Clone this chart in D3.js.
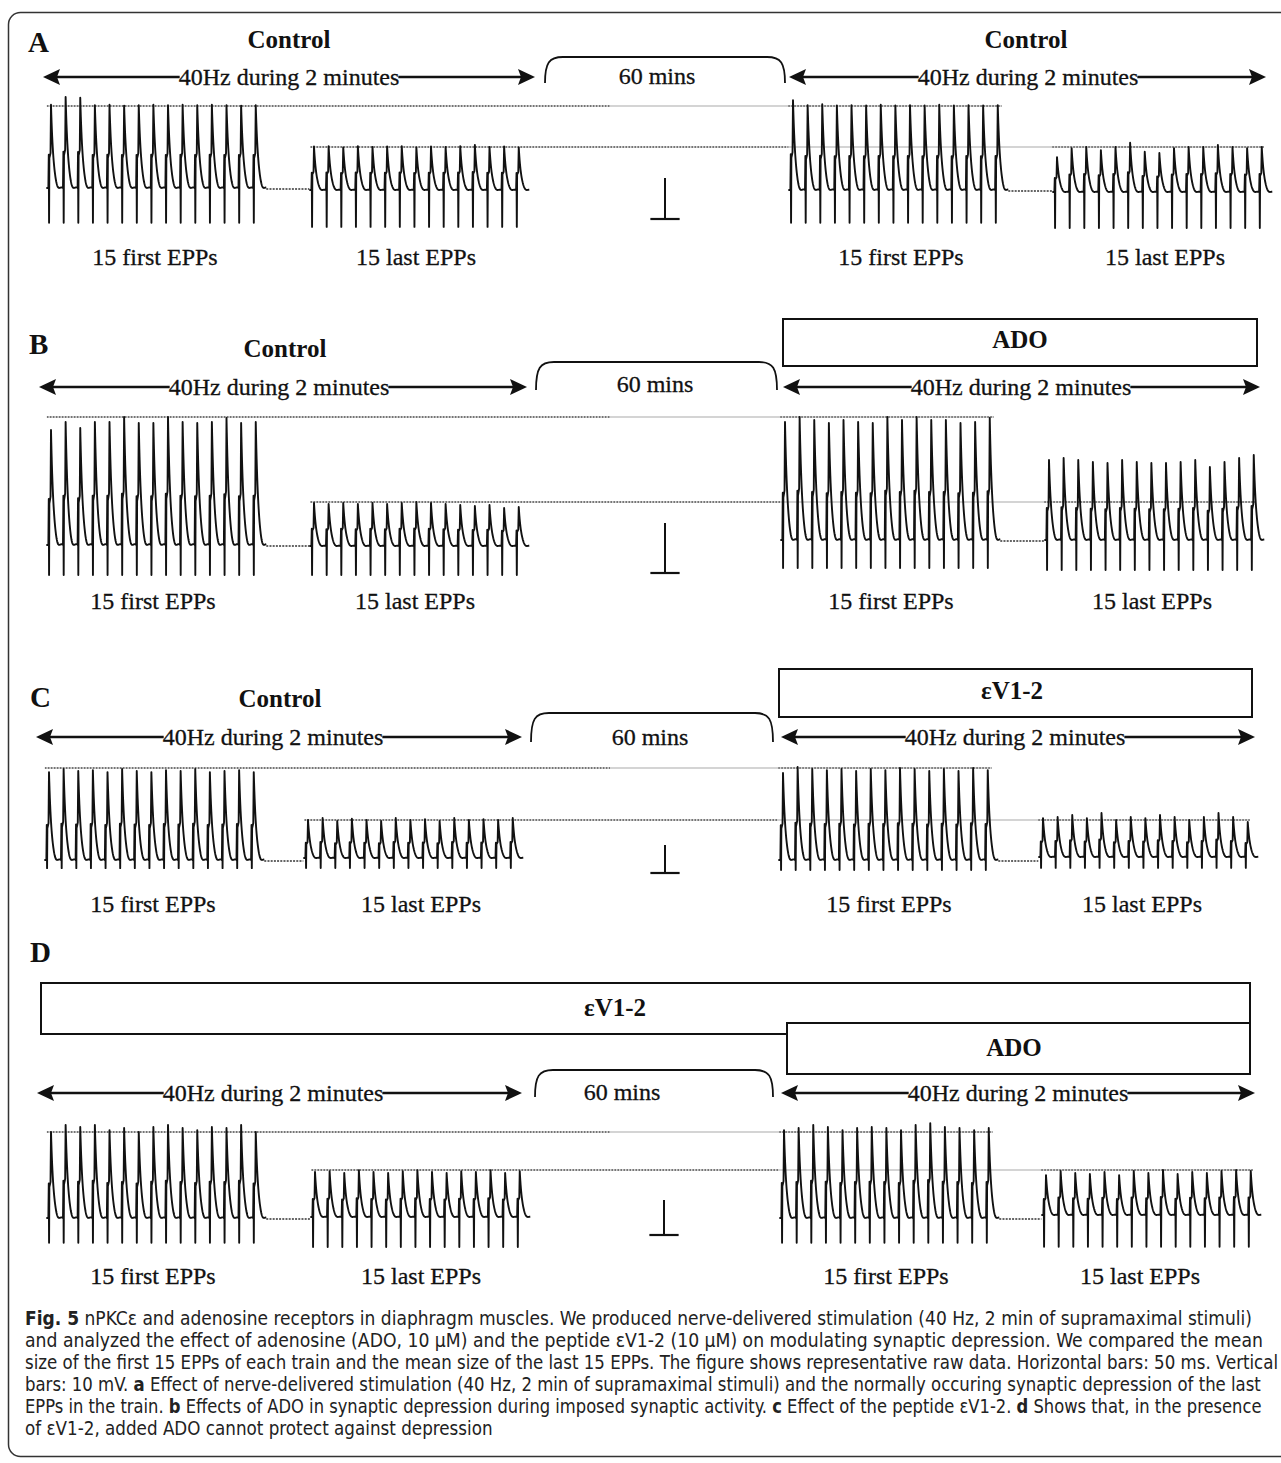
<!DOCTYPE html>
<html>
<head>
<meta charset="utf-8">
<script src="https://cdn.jsdelivr.net/npm/d3@7/dist/d3.min.js"></script>
<style>
  body { margin: 0; background: #fff; }
  svg { display: block; }
  .serif { font-family: "Liberation Serif", "Times New Roman", serif; fill: #111; }
  .letter { font-size: 29px; font-weight: bold; }
  .head { font-size: 25px; font-weight: bold; }
  .reg { font-size: 24px; stroke: #111; stroke-width: 0.3px; }
  .caption text { font-family: "Liberation Sans Narrow", "DejaVu Sans Condensed", "Arial Narrow", sans-serif; font-size: 20px; fill: #222; }
</style>
</head>
<body>
<script>
// Testi
var panelLetters = ["A", "B", "C", "D"];
var trainLabels = ["15 first EPPs", "15 last EPPs", "15 first EPPs", "15 last EPPs"];
var stimText = "40Hz during 2 minutes";
var waitText = "60 mins";
var controlText = "Control";
var adoText = "ADO";
var peptideText = "εV1-2";

// Ampiezze dei 15 EPP (mV)
var aFirst1 = [20.3, 22.2, 22.0, 20.2, 20.3, 20.1, 20.2, 20.3, 20.2, 20.3, 20.2, 20.3, 20.2, 20.1, 20.2];
var aLast1  = [10.6, 10.7, 10.4, 10.7, 10.5, 10.6, 10.7, 10.4, 10.6, 10.5, 10.7, 11.0, 10.5, 10.6, 10.4];
var aFirst2 = [21.9, 20.7, 20.9, 20.6, 20.7, 20.6, 20.8, 20.6, 20.7, 20.6, 20.8, 20.6, 20.7, 20.6, 20.7];
var aLast2  = [8.5, 10.7, 11.0, 10.2, 11.0, 12.0, 9.8, 9.5, 10.7, 11.0, 11.0, 11.5, 11.0, 10.7, 11.0];

var bFirst1 = [23.0, 24.6, 23.4, 24.6, 24.6, 25.6, 24.4, 24.4, 25.6, 24.6, 24.4, 24.6, 25.4, 24.4, 24.6];
var bLast1  = [8.6, 8.4, 8.6, 8.4, 8.6, 8.4, 8.6, 8.8, 8.6, 8.4, 8.2, 8.0, 8.2, 7.6, 7.8];
var bFirst2 = [23.6, 24.6, 24.0, 23.4, 24.0, 23.6, 23.4, 24.6, 24.0, 24.6, 24.0, 24.0, 23.4, 23.6, 24.4];
var bLast2  = [16.0, 16.4, 16.0, 15.6, 15.4, 16.0, 15.6, 15.4, 15.4, 15.6, 16.0, 14.6, 15.6, 16.4, 17.0];

var cFirst1 = [31.4, 32.5, 31.8, 32.1, 31.4, 32.5, 31.8, 31.4, 32.1, 31.8, 32.5, 31.4, 31.8, 32.1, 31.4];
var cLast1  = [13.6, 14.3, 13.2, 14.0, 13.6, 13.2, 14.3, 13.6, 13.9, 13.2, 14.3, 13.6, 13.9, 13.6, 14.3];
var cFirst2 = [31.1, 33.2, 32.5, 32.1, 32.5, 31.8, 32.5, 32.1, 32.9, 32.5, 31.8, 32.5, 31.8, 32.9, 32.1];
var cLast2  = [13.9, 14.3, 15.0, 13.9, 15.7, 13.2, 14.3, 13.9, 15.0, 14.3, 13.2, 14.3, 15.7, 14.3, 12.5];

var dFirst1 = [24.6, 26.6, 26.0, 26.6, 25.1, 25.7, 24.6, 26.0, 26.6, 25.7, 25.1, 26.0, 25.7, 26.6, 24.6];
var dLast1  = [12.9, 13.1, 12.6, 13.4, 12.9, 12.6, 13.1, 13.4, 12.9, 12.6, 13.1, 12.9, 13.4, 12.6, 13.1];
var dFirst2 = [25.1, 25.7, 26.6, 26.0, 25.1, 25.7, 26.0, 25.7, 25.1, 26.6, 27.1, 26.0, 25.7, 25.1, 25.7];
var dLast2  = [11.4, 12.6, 12.0, 11.7, 12.3, 11.4, 12.6, 12.0, 12.9, 11.7, 12.3, 12.0, 12.6, 12.9, 12.6];

// Profondita' dell'artefatto di stimolo (mV sotto la linea di base), per treno
var artA = [8.5, 9.0, 8.0, 8.8];
var artB = [6.0, 5.8, 5.6, 6.0];
var artC = [2.9, 3.6, 3.6, 3.9];
var artD = [7.1, 8.6, 7.1, 9.1];

// Barre di scala: 50 ms, 10 mV
var scaleMs = 50;
var scaleMv = 10;
var isiMs = 25; // 40 Hz

// Didascalia
var captionLines = [
  [["Fig. 5", true], [" nPKCε and adenosine receptors in diaphragm muscles. We produced nerve-delivered stimulation (40 Hz, 2 min of supramaximal stimuli)", false]],
  [["and analyzed the effect of adenosine (ADO, 10 μM) and the peptide εV1-2 (10 μM) on modulating synaptic depression. We compared the mean", false]],
  [["size of the first 15 EPPs of each train and the mean size of the last 15 EPPs. The figure shows representative raw data. Horizontal bars: 50 ms. Vertical", false]],
  [["bars: 10 mV. ", false], ["a", true], [" Effect of nerve-delivered stimulation (40 Hz, 2 min of supramaximal stimuli) and the normally occuring synaptic depression of the last", false]],
  [["EPPs in the train. ", false], ["b", true], [" Effects of ADO in synaptic depression during imposed synaptic activity. ", false], ["c", true], [" Effect of the peptide εV1-2. ", false], ["d", true], [" Shows that, in the presence", false]],
  [["of εV1-2, added ADO cannot protect against depression", false]]
];
var captionWidths = [1227, 1239, 1254, 1237, 1237, null];

// Layout dei pannelli
var PX_PER_MS = 0.585;
var panels = [
  { letter: panelLetters[0], letterX: 28, letterY: 52, barPx: 41,
    headers: [{ x: 289, y: 48, text: controlText }, { x: 1026, y: 48, text: controlText }],
    boxes: [],
    arrowY: 77, arrowTextY: 85, arrows: [{ x1: 43, x2: 535, tx: 289 }, { x1: 789, x2: 1266, tx: 1028 }],
    bracket: { x1: 545, x2: 785, top: 57, bot: 83, tx: 657, ty: 84 },
    bar: { x: 665, y: 219 }, refY: [106, 147],
    trains: [{ amps: aFirst1, art: artA[0], x0: 51, base: 188 }, { amps: aLast1, art: artA[1], x0: 314, base: 190 },
             { amps: aFirst2, art: artA[2], x0: 793, base: 190 }, { amps: aLast2, art: artA[3], x0: 1057, base: 192 }],
    labelY: 265, labelX: [155, 416, 901, 1165] },
  { letter: panelLetters[1], letterX: 29, letterY: 354, barPx: 50,
    headers: [{ x: 285, y: 357, text: controlText }],
    boxes: [{ x1: 783, x2: 1257, y1: 319, y2: 366, text: adoText, tx: 1020, ty: 348 }],
    arrowY: 387, arrowTextY: 395, arrows: [{ x1: 39, x2: 527, tx: 279 }, { x1: 783, x2: 1260, tx: 1021 }],
    bracket: { x1: 536, x2: 777, top: 362, bot: 390, tx: 655, ty: 392 },
    bar: { x: 665, y: 573 }, refY: [417, 502],
    trains: [{ amps: bFirst1, art: artB[0], x0: 51, base: 545 }, { amps: bLast1, art: artB[1], x0: 314, base: 546 },
             { amps: bFirst2, art: artB[2], x0: 785, base: 540 }, { amps: bLast2, art: artB[3], x0: 1049, base: 540 }],
    labelY: 609, labelX: [153, 415, 891, 1152] },
  { letter: panelLetters[2], letterX: 30, letterY: 707, barPx: 28,
    headers: [{ x: 280, y: 707, text: controlText }],
    boxes: [{ x1: 779, x2: 1252, y1: 669, y2: 717, text: peptideText, tx: 1012, ty: 699 }],
    arrowY: 737, arrowTextY: 745, arrows: [{ x1: 36, x2: 522, tx: 273 }, { x1: 781, x2: 1255, tx: 1015 }],
    bracket: { x1: 531, x2: 773, top: 713, bot: 742, tx: 650, ty: 745 },
    bar: { x: 665, y: 873 }, refY: [768, 820],
    trains: [{ amps: cFirst1, art: artC[0], x0: 49, base: 860 }, { amps: cLast1, art: artC[1], x0: 308, base: 858 },
             { amps: cFirst2, art: artC[2], x0: 783, base: 860 }, { amps: cLast2, art: artC[3], x0: 1043, base: 857 }],
    labelY: 912, labelX: [153, 421, 889, 1142] },
  { letter: panelLetters[3], letterX: 30, letterY: 962, barPx: 35,
    headers: [],
    boxes: [{ x1: 41, x2: 1250, y1: 983, y2: 1034, text: peptideText, tx: 615, ty: 1016 },
            { x1: 787, x2: 1250, y1: 1023, y2: 1074, text: adoText, tx: 1014, ty: 1056 }],
    arrowY: 1093, arrowTextY: 1101, arrows: [{ x1: 37, x2: 522, tx: 273 }, { x1: 781, x2: 1255, tx: 1018 }],
    bracket: { x1: 535, x2: 773, top: 1070, bot: 1097, tx: 622, ty: 1100 },
    bar: { x: 664, y: 1235 }, refY: [1132, 1170],
    trains: [{ amps: dFirst1, art: artD[0], x0: 51, base: 1218 }, { amps: dLast1, art: artD[1], x0: 315, base: 1217 },
             { amps: dFirst2, art: artD[2], x0: 784, base: 1218 }, { amps: dLast2, art: artD[3], x0: 1046, base: 1215 }],
    labelY: 1284, labelX: [153, 421, 886, 1140] }
];

var svg = d3.select("body").append("svg")
  .attr("width", 1281)
  .attr("height", 1463);

// Cornice arrotondata
svg.append("rect")
  .attr("x", 8.5).attr("y", 12.5)
  .attr("width", 1310).attr("height", 1444)
  .attr("rx", 12)
  .attr("fill", "none").attr("stroke", "#333").attr("stroke-width", 1.5);

// Forma di un EPP: artefatto, salita rapida, decadimento esponenziale
function trainPoints(amps, art) {
  var pts = [[-8, 0]];
  amps.forEach(function(a, i) {
    var t0 = i * isiMs;
    pts.push([t0 - 4.5, 0], [t0 - 3.8, 0.4 * a], [t0 - 3.3, -art], [t0 - 2.8, 0.36 * a], [t0 - 0.8, 0.42 * a], [t0, a]);
    var end = i < amps.length - 1 ? 20 : 18;
    for (var dt = 0.5; dt <= end; dt += 0.5) {
      pts.push([t0 + dt, a * Math.exp(-dt / 4.2) - 0.05 * a * Math.exp(-Math.pow((dt - 11) / 5, 2))]);
    }
  });
  return pts;
}

function timeScale(x0) {
  return d3.scaleLinear().domain([0, 350]).range([x0, x0 + 350 * PX_PER_MS]);
}

function drawArrow(g, a, y, ty) {
  g.append("line")
    .attr("x1", a.x1 + 10).attr("x2", a.x2 - 10)
    .attr("y1", y).attr("y2", y)
    .attr("stroke", "#111").attr("stroke-width", 2.4);
  g.append("path")
    .attr("d", "M" + a.x1 + "," + y + "L" + (a.x1 + 17) + "," + (y - 8) + "L" + (a.x1 + 14) + "," + y + "L" + (a.x1 + 17) + "," + (y + 8) + "Z")
    .attr("fill", "#111");
  g.append("path")
    .attr("d", "M" + a.x2 + "," + y + "L" + (a.x2 - 17) + "," + (y - 8) + "L" + (a.x2 - 14) + "," + y + "L" + (a.x2 - 17) + "," + (y + 8) + "Z")
    .attr("fill", "#111");
  var t = g.append("text")
    .attr("class", "serif reg")
    .attr("x", a.tx).attr("y", ty)
    .attr("text-anchor", "middle")
    .text(stimText);
  var bb = t.node().getBBox();
  g.insert("rect", function() { return t.node(); })
    .attr("x", bb.x + 1).attr("y", y - 3)
    .attr("width", bb.width - 2).attr("height", 6)
    .attr("fill", "#fff");
}

function refLine(g, y, x1, x2, dotted) {
  g.append("line")
    .attr("x1", x1).attr("x2", x2).attr("y1", y).attr("y2", y)
    .attr("stroke", "#aaa").attr("stroke-width", 1.2);
  dotted.forEach(function(s) {
    g.append("line")
      .attr("x1", s[0]).attr("x2", s[1]).attr("y1", y).attr("y2", y)
      .attr("stroke", "#555").attr("stroke-width", 1.3)
      .attr("stroke-dasharray", "1.5,1.5");
  });
}

var line = d3.line();

panels.forEach(function(p) {
  var g = svg.append("g");

  g.append("text").attr("class", "serif letter")
    .attr("x", p.letterX).attr("y", p.letterY).text(p.letter);

  p.headers.forEach(function(h) {
    g.append("text").attr("class", "serif head")
      .attr("x", h.x).attr("y", h.y).attr("text-anchor", "middle").text(h.text);
  });

  p.boxes.forEach(function(b) {
    g.append("rect")
      .attr("x", b.x1).attr("y", b.y1)
      .attr("width", b.x2 - b.x1).attr("height", b.y2 - b.y1)
      .attr("fill", "#fff").attr("stroke", "#111").attr("stroke-width", 2);
    g.append("text").attr("class", "serif head")
      .attr("x", b.tx).attr("y", b.ty).attr("text-anchor", "middle").text(b.text);
  });

  p.arrows.forEach(function(a) { drawArrow(g, a, p.arrowY, p.arrowTextY); });

  // Parentesi "60 mins"
  var br = p.bracket;
  g.append("path")
    .attr("d", "M" + br.x1 + "," + br.bot +
      "C" + br.x1 + "," + (br.top + 6) + " " + (br.x1 + 4) + "," + br.top + " " + (br.x1 + 18) + "," + br.top +
      "L" + (br.x2 - 18) + "," + br.top +
      "C" + (br.x2 - 4) + "," + br.top + " " + br.x2 + "," + (br.top + 6) + " " + br.x2 + "," + br.bot)
    .attr("fill", "none").attr("stroke", "#111").attr("stroke-width", 1.8);
  g.append("text").attr("class", "serif reg")
    .attr("x", br.tx).attr("y", br.ty).attr("text-anchor", "middle").text(waitText);

  // Scale orizzontali dei treni
  var xs = p.trains.map(function(t) { return timeScale(t.x0); });
  var lastT = (p.trains[0].amps.length - 1) * isiMs;

  // Linee di riferimento (picchi dei primi e degli ultimi EPP)
  var topStart = xs[0](-7), topEnd = xs[2](lastT) + 4;
  refLine(g, p.refY[0], topStart, topEnd, [[topStart, 610], [xs[2](-8), topEnd]]);
  var lowStart = xs[1](-6), lowEnd = xs[3](lastT) + 2;
  refLine(g, p.refY[1], lowStart, lowEnd, [[lowStart, xs[2](-8)], [xs[3](-8), lowEnd]]);

  // Tratteggio sulla linea di base tra primo e ultimo treno
  [[0, 1], [2, 3]].forEach(function(pair) {
    var a = p.trains[pair[0]];
    g.append("line")
      .attr("x1", xs[pair[0]](lastT + 18)).attr("x2", xs[pair[1]](-8))
      .attr("y1", a.base + 1).attr("y2", a.base + 1)
      .attr("stroke", "#333").attr("stroke-width", 1.4)
      .attr("stroke-dasharray", "2,1.2");
  });

  // Tracce
  p.trains.forEach(function(t, i) {
    var y = d3.scaleLinear().domain([0, scaleMv]).range([t.base, t.base - p.barPx]);
    g.append("path")
      .attr("d", line.x(function(d) { return xs[i](d[0]); }).y(function(d) { return y(d[1]); })(trainPoints(t.amps, t.art)))
      .attr("fill", "none").attr("stroke", "#111").attr("stroke-width", 1.9)
      .attr("stroke-linejoin", "round");
    g.append("text").attr("class", "serif reg")
      .attr("x", p.labelX[i]).attr("y", p.labelY).attr("text-anchor", "middle").text(trainLabels[i]);
  });

  // Barra di scala 50 ms / 10 mV
  var ys = d3.scaleLinear().domain([0, scaleMv]).range([p.bar.y, p.bar.y - p.barPx]);
  var hw = scaleMs * PX_PER_MS / 2;
  g.append("line").attr("x1", p.bar.x).attr("x2", p.bar.x).attr("y1", ys(0)).attr("y2", ys(scaleMv))
    .attr("stroke", "#111").attr("stroke-width", 2);
  g.append("line").attr("x1", p.bar.x - hw).attr("x2", p.bar.x + hw).attr("y1", ys(0)).attr("y2", ys(0))
    .attr("stroke", "#111").attr("stroke-width", 2.2);
});

// Didascalia
var cap = svg.append("g").attr("class", "caption");
var factors = [];
var capNodes = captionLines.map(function(segs, i) {
  var t = cap.append("text").attr("x", 0).attr("y", 0);
  segs.forEach(function(s) {
    t.append("tspan").attr("font-weight", s[1] ? "bold" : null).text(s[0]);
  });
  var w = t.node().getComputedTextLength();
  if (captionWidths[i]) factors.push(captionWidths[i] / w);
  return t;
});
var meanK = d3.mean(factors);
capNodes.forEach(function(t, i) {
  var w = t.node().getComputedTextLength();
  var k = captionWidths[i] ? captionWidths[i] / w : meanK;
  t.attr("transform", "translate(25," + (1325 + i * 22) + ") scale(" + k + ",1)");
});
</script>
</body>
</html>
